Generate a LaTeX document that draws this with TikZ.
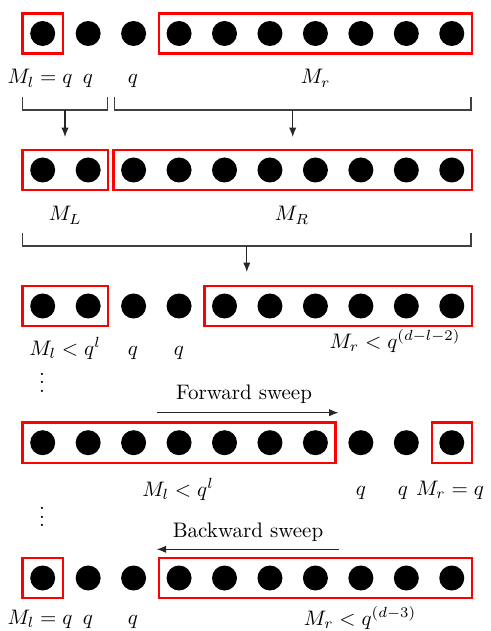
\documentclass[tikz,border=0pt]{standalone}
\usetikzlibrary{arrows.meta,fit}
\newcommand{\myvdots}{\vbox{\baselineskip4pt\lineskiplimit0pt\hbox{.}\hbox{.}\hbox{.}}}
\begin{document}
\begin{tikzpicture}[x=0.476pt,y=-0.476pt,
  dot/.style={circle,fill=black,inner sep=0pt,minimum size=11.9pt},
  redbox/.style={draw=red,line width=1.1pt,inner sep=3.4pt,rectangle},
  lab/.style={anchor=base,inner sep=0pt},
  brk/.style={draw=black!75,line width=0.5pt},
  arr/.style={draw=black!85,line width=0.5pt,-{Latex[length=4.5pt,width=3.5pt]}}]
\useasboundingbox (0,0) rectangle (490,631);
\foreach \r/\y in {1/33.5,2/170,3/306,4/442.7,5/578}{
  \foreach \i in {1,...,10}{
    \node[dot] (r\r d\i) at ({42.7+45.45*(\i-1)},\y) {};
  }
}
% red boxes
\node[redbox,fit=(r1d1)] (b11) {};
\node[redbox,fit=(r1d4)(r1d10)] (b12) {};
\node[redbox,fit=(r2d1)(r2d2)] (b21) {};
\node[redbox,fit=(r2d3)(r2d10)] (b22) {};
\node[redbox,fit=(r3d1)(r3d2)] (b31) {};
\node[redbox,fit=(r3d5)(r3d10)] (b32) {};
\node[redbox,fit=(r4d1)(r4d7)] (b41) {};
\node[redbox,fit=(r4d10)] (b42) {};
\node[redbox,fit=(r5d1)] (b51) {};
\node[redbox,fit=(r5d4)(r5d10)] (b52) {};

% row 1 labels
\node[lab] (l11) at (40,84) {$M_l = q$};
\node[lab] (l12) at (88,84) {$q$};
\node[lab] (l13) at (133,84) {$q$};
\node[lab] (l14) at (315.7,84) {$M_r$};
% brackets 1 -> 2
\draw[brk] (22.7,96.7) -- (22.7,110) -- (107.3,110) -- (107.3,96.7);
\draw[brk] (114.3,96.7) -- (114.3,110) -- (471,110) -- (471,96.7);
\coordinate (a1s) at (65,110);
\coordinate (a1e) at (65,137);
\coordinate (a2s) at (292.7,110);
\coordinate (a2e) at (292.7,137);
\draw[arr] (a1s) -- (a1e);
\draw[arr] (a2s) -- (a2e);
% row 2 labels
\node[lab] (l21) at (65.3,221) {$M_L$};
\node[lab] (l22) at (292,221) {$M_R$};
% bracket 2 -> 3
\draw[brk] (22.7,232.7) -- (22.7,246) -- (471,246) -- (471,232.7);
\coordinate (a3s) at (246.8,246);
\coordinate (a3e) at (246.8,272);
\draw[arr] (a3s) -- (a3e);
% row 3 labels
\node[lab] (l31) at (65,355) {$M_l < q^l$};
\node[lab] (l32) at (133,355) {$q$};
\node[lab] (l33) at (179,355) {$q$};
\node[lab] (l34) at (395,348) {$M_r < q^{(d-l-2)}$};
\node[lab] (v1) at (42,392) {\myvdots};
% forward sweep
\node[lab] (fw) at (244,399) {Forward sweep};
\coordinate (f1) at (156.7,412.7);
\coordinate (f2) at (338.5,412.7);
\draw[arr] (f1) -- (f2);
% row 4 labels
\node[lab] (l41) at (178,496) {$M_l < q^l$};
\node[lab] (l42) at (361,495) {$q$};
\node[lab] (l43) at (403,495) {$q$};
\node[lab] (l44) at (450,495) {$M_r = q$};
\node[lab] (v2) at (42,526.5) {\myvdots};
% backward sweep
\node[lab] (bw) at (248,537) {Backward sweep};
\coordinate (g1) at (338.5,549.3);
\coordinate (g2) at (156.7,549.3);
\draw[arr] (g1) -- (g2);
% row 5 labels
\node[lab] (l51) at (40,624) {$M_l = q$};
\node[lab] (l52) at (88,624) {$q$};
\node[lab] (l53) at (133,624) {$q$};
\node[lab] (l54) at (360,625) {$M_r < q^{(d-3)}$};
\end{tikzpicture}
\end{document}
